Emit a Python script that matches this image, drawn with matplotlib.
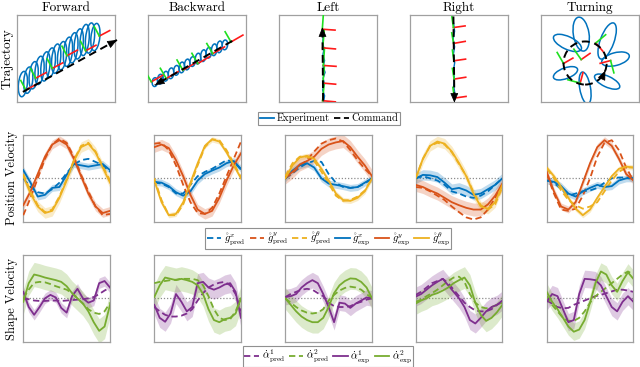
import numpy as np
import matplotlib.pyplot as plt
from matplotlib.patches import Ellipse, Circle
from matplotlib.lines import Line2D

plt.rcParams['font.family'] = 'serif'
plt.rcParams['font.serif'] = ['cmr10']
plt.rcParams['mathtext.fontset'] = 'cm'
plt.rcParams['axes.formatter.use_mathtext'] = True

BLUE = '#0072BD'
RED = '#D95319'
YEL = '#EDB120'
PUR = '#7E2F8E'
GRN = '#77AC30'
FR_RED = '#ff1a1a'
FR_GRN = '#1fe01f'

titles = ["Forward", "Backward", "Left", "Right", "Turning"]

# ---- trajectory row (panel units: x 0..100, y 0..88) ----
# forward: loop centres of the coiling path
fwd_loop_x = [6, 11.5, 17, 23, 29, 34.5, 40, 46, 52, 57.5, 63, 69, 74.5, 80]
fwd_loop_y = [18, 22, 27, 32, 36, 40, 44, 47, 51, 55, 59, 63, 65, 66]
fwd_loop_h = [26, 27, 28, 29, 30, 30, 30, 29, 30, 31, 31, 32, 31, 28]
fwd_loop_w = 9
fwd_cmd_x = [6, 102]
fwd_cmd_y = [10, 63]
fwd_fx = [9, 19, 36, 51, 70, 84]
fwd_fy = [12, 24, 34, 47, 52, 67]
fwd_fh = [28, 28, 28, 28, 28, 28]

# backward
bwd_loop_x = [7, 12.5, 18, 23.5, 29, 34.5, 40, 45.5, 51, 56.5, 62, 67.5, 73, 78.5]
bwd_loop_y = [20, 23, 26, 29, 32, 35, 38, 41, 44, 47, 50, 53, 56, 58]
bwd_loop_h = [9, 10, 10, 11, 10, 11, 11, 10, 11, 12, 11, 12, 12, 10]
bwd_loop_w = 5.5
bwd_cmd_x = [86, 7]
bwd_cmd_y = [62, 17]
bwd_fx = [3.4, 18.6, 35.6, 50.8, 66, 84.7]
bwd_fy = [20.3, 23.7, 32.2, 39, 49, 61]
bwd_fh = [30, 30, 30, 30, 30, 30]

# left
left_bx = [45.5, 46.5, 44.5, 46.5, 45, 47, 45, 46.5, 44.8, 46, 44.5, 45]
left_by = [0, 6, 12, 18, 24, 30, 36, 42, 48, 54, 60, 66]
left_cmd_x = [45, 44.3]
left_cmd_y = [1, 76]
left_fx = [44.5, 44.8, 45.2, 44.6, 44.2]
left_fy = [1, 19, 37, 55, 74]
left_fh = [-5, -5, -4, -5, -4]

# right
right_bx = [44.5, 45.5, 44, 45.5, 44.2, 45.6, 44.4, 45.2, 44.6, 45.8]
right_by = [80, 72, 64, 56, 48, 40, 32, 24, 16, 8]
right_cmd_x = [44.3, 45.3]
right_cmd_y = [87, -1]
right_fx = [44.3, 44.5, 44.8, 45, 45.3]
right_fy = [75.7, 59.5, 41.8, 23.1, 3.7]
right_fh = [8, 10, 8, 9, 8]

# turning: petals of the looping path around the commanded circle
turn_px = [41, 27, 67.5, 76, 67.5, 45, 25]
turn_py = [69, 60, 62, 43.5, 20.5, 14, 29]
turn_plen = [35, 31, 39, 29, 28, 33, 26]
turn_pwid = [16, 13, 14, 13, 11, 11, 11]
turn_pang = [99, 155, 70, 15, -25, 100, 20]
turn_cx, turn_cy, turn_r = 45, 39.5, 22
turn_arrow_deg = -24
turn_fx = [23, 41, 56, 71, 40]
turn_fy = [39, 43, 60, 42, 19]
turn_fh = [30, 35, -50, 195, 75]

# ---- position velocity row (13 samples per run) ----
gx_exp = [[0.19, -0.1, -0.42, -0.38, -0.22, -0.2, 0.08, 0.33, 0.3, 0.27, 0.3, 0.33, 0.19],
          [-0.08, -0.1, -0.18, -0.32, -0.4, -0.3, -0.05, 0.1, 0.18, 0.25, 0.35, 0.4, 0.22],
          [0.0, 0.18, 0.3, 0.35, 0.25, 0.0, -0.12, -0.15, -0.18, -0.22, -0.2, -0.1, 0.0],
          [0.0, 0.08, 0.07, 0.03, -0.1, -0.25, -0.22, -0.28, -0.38, -0.35, -0.25, -0.15, 0.0],
          [-0.05, -0.08, -0.18, -0.35, -0.42, -0.3, -0.22, -0.15, -0.2, -0.18, -0.05, 0.0, 0.0]]
gx_pred = [[0.0, -0.2, -0.32, -0.35, -0.25, -0.1, 0.12, 0.32, 0.42, 0.45, 0.38, 0.3, 0.15],
           [-0.1, -0.12, -0.2, -0.35, -0.35, -0.15, 0.05, 0.15, 0.22, 0.32, 0.42, 0.38, 0.2],
           [0.0, 0.12, 0.25, 0.35, 0.4, 0.38, 0.1, -0.1, -0.2, -0.22, -0.2, -0.12, 0.0],
           [0.0, 0.05, 0.0, -0.05, -0.15, -0.3, -0.35, -0.42, -0.45, -0.4, -0.3, -0.15, 0.0],
           [-0.05, -0.1, -0.25, -0.4, -0.35, -0.3, -0.28, -0.22, -0.1, 0.0, 0.02, 0.02, 0.0]]
gy_exp = [[-0.62, -0.3, 0.1, 0.5, 0.78, 0.88, 0.78, 0.45, 0.05, -0.35, -0.65, -0.8, -0.75],
          [0.72, 0.78, 0.7, 0.42, 0.05, -0.38, -0.72, -0.82, -0.75, -0.45, -0.05, 0.3, 0.58],
          [0.02, 0.15, 0.32, 0.4, 0.5, 0.68, 0.78, 0.83, 0.86, 0.72, 0.5, 0.3, 0.05],
          [-0.15, -0.2, -0.28, -0.35, -0.45, -0.55, -0.62, -0.68, -0.72, -0.72, -0.6, -0.4, -0.12],
          [0.15, -0.3, -0.65, -0.72, -0.55, -0.1, 0.35, 0.72, 0.88, 0.75, 0.45, 0.1, -0.05]]
gy_pred = [[-0.85, -0.45, 0.0, 0.45, 0.78, 0.92, 0.82, 0.5, 0.08, -0.3, -0.65, -0.85, -0.82],
           [0.8, 0.82, 0.65, 0.3, -0.15, -0.55, -0.8, -0.82, -0.68, -0.35, 0.05, 0.45, 0.85],
           [0.0, 0.12, 0.28, 0.42, 0.62, 0.8, 0.88, 0.92, 0.85, 0.65, 0.42, 0.22, 0.05],
           [-0.2, -0.22, -0.3, -0.4, -0.5, -0.65, -0.78, -0.9, -0.95, -0.9, -0.72, -0.45, -0.15],
           [0.1, -0.35, -0.72, -0.75, -0.7, -0.4, 0.0, 0.5, 0.82, 0.88, 0.65, 0.25, -0.05]]
gth_exp = [[0.05, -0.35, -0.65, -0.8, -0.75, -0.45, -0.05, 0.4, 0.72, 0.8, 0.6, 0.25, -0.1],
           [-0.05, -0.55, -0.85, -0.82, -0.55, -0.1, 0.35, 0.75, 0.9, 0.85, 0.6, 0.3, 0.0],
           [0.0, 0.3, 0.48, 0.52, 0.45, 0.22, -0.05, -0.35, -0.5, -0.52, -0.45, -0.3, 0.0],
           [0.0, 0.45, 0.75, 0.85, 0.8, 0.62, 0.35, 0.05, -0.35, -0.65, -0.7, -0.55, -0.15],
           [0.25, 0.05, -0.2, -0.45, -0.7, -0.85, -0.72, -0.45, -0.2, 0.05, 0.22, 0.27, 0.25]]
gth_pred = [[0.1, -0.3, -0.62, -0.78, -0.72, -0.42, -0.02, 0.42, 0.75, 0.82, 0.62, 0.28, -0.05],
            [0.0, -0.5, -0.85, -0.85, -0.6, -0.15, 0.3, 0.72, 0.9, 0.88, 0.65, 0.35, 0.02],
            [0.05, 0.35, 0.5, 0.5, 0.4, 0.15, -0.12, -0.4, -0.52, -0.5, -0.42, -0.28, 0.0],
            [0.0, 0.45, 0.75, 0.82, 0.78, 0.6, 0.33, 0.05, -0.32, -0.62, -0.72, -0.6, -0.2],
            [0.22, 0.0, -0.28, -0.5, -0.62, -0.7, -0.65, -0.55, -0.3, -0.05, 0.15, 0.25, 0.25]]
gx_band = [0.08, 0.08, 0.08, 0.12, 0.08]
gy_band = [0.1, 0.12, 0.15, 0.15, 0.08]
gth_band = [0.12, 0.06, 0.06, 0.12, 0.06]

# ---- shape velocity row (17 samples per run) ----
a1_exp = [[0.15, -0.2, -0.38, -0.2, 0.0, 0.08, 0.02, -0.22, -0.33, 0.05, 0.22, 0.0, -0.1, -0.05, 0.35, 0.4, 0.25],
          [-0.15, -0.45, -0.54, -0.35, 0.1, -0.08, -0.3, -0.2, 0.35, 0.38, 0.25, 0.2, 0.25, 0.32, 0.35, 0.15, -0.45],
          [0.03, 0.05, 0.1, 0.25, 0.35, 0.42, 0.35, 0.1, -0.2, -0.55, -0.1, -0.12, -0.22, -0.12, -0.05, 0.02, 0.0],
          [0.04, 0.1, 0.2, 0.3, 0.38, 0.45, 0.3, 0.15, 0.0, -0.2, -0.5, -0.58, -0.45, -0.3, -0.2, -0.15, -0.05],
          [-0.08, 0.1, 0.05, -0.25, -0.55, -0.5, 0.1, 0.45, 0.44, 0.42, 0.3, 0.05, -0.2, -0.3, -0.08, 0.05, -0.08]]
a1_pred = [[0.0, -0.02, -0.05, -0.06, -0.06, -0.05, -0.05, -0.06, -0.05, -0.04, -0.03, -0.02, 0.0, 0.03, 0.1, 0.18, 0.25],
           [-0.2, -0.3, -0.38, -0.42, -0.42, -0.4, -0.35, -0.25, -0.05, 0.12, 0.25, 0.32, 0.36, 0.38, 0.3, 0.1, -0.3],
           [0.03, 0.1, 0.15, 0.2, 0.22, 0.2, 0.12, 0.05, -0.1, -0.18, -0.2, -0.2, -0.18, -0.12, -0.08, -0.03, 0.0],
           [0.08, 0.15, 0.25, 0.35, 0.4, 0.45, 0.35, 0.2, 0.05, -0.1, -0.2, -0.28, -0.3, -0.3, -0.25, -0.15, -0.08],
           [-0.05, -0.12, -0.2, -0.23, -0.22, -0.15, -0.1, -0.05, 0.0, 0.05, 0.08, 0.12, 0.16, 0.2, 0.2, 0.18, 0.15]]
a2_exp = [[-0.08, 0.35, 0.55, 0.52, 0.48, 0.45, 0.42, 0.38, 0.28, 0.12, 0.0, -0.12, -0.3, -0.55, -0.75, -0.65, -0.15],
          [0.03, 0.3, 0.48, 0.45, 0.42, 0.45, 0.42, 0.38, 0.3, 0.1, -0.25, -0.5, -0.55, -0.48, -0.45, -0.35, 0.0],
          [0.0, -0.15, -0.3, -0.42, -0.5, -0.55, -0.55, -0.45, -0.2, 0.12, 0.3, 0.4, 0.46, 0.45, 0.38, 0.25, 0.0],
          [-0.12, -0.05, 0.0, 0.08, 0.12, 0.18, 0.25, 0.35, 0.42, 0.48, 0.3, -0.1, -0.38, -0.52, -0.45, -0.32, -0.15],
          [0.15, -0.08, -0.25, -0.45, -0.65, -0.77, -0.72, -0.5, -0.1, 0.35, 0.62, 0.55, 0.3, 0.15, 0.4, 0.6, 0.45]]
a2_pred = [[0.0, 0.2, 0.36, 0.38, 0.37, 0.33, 0.28, 0.24, 0.2, 0.12, 0.0, -0.12, -0.25, -0.33, -0.36, -0.3, -0.1],
           [0.35, 0.38, 0.4, 0.42, 0.43, 0.45, 0.45, 0.45, 0.42, 0.3, 0.05, -0.25, -0.45, -0.5, -0.48, -0.3, 0.0],
           [0.0, -0.1, -0.2, -0.28, -0.33, -0.35, -0.33, -0.25, -0.05, 0.08, 0.18, 0.24, 0.27, 0.25, 0.2, 0.1, 0.0],
           [-0.08, -0.03, 0.05, 0.12, 0.2, 0.3, 0.4, 0.48, 0.5, 0.38, 0.1, -0.1, -0.2, -0.23, -0.2, -0.15, -0.1],
           [0.05, -0.15, -0.3, -0.45, -0.52, -0.52, -0.45, -0.3, -0.1, 0.05, 0.15, 0.25, 0.35, 0.45, 0.55, 0.62, 0.55]]
a1_band = [0.12, 0.22, 0.18, 0.22, 0.2]
a2_band = [0.28, 0.28, 0.25, 0.25, 0.2]


def style(ax):
    ax.set_xticks([])
    ax.set_yticks([])
    for s in ax.spines.values():
        s.set_color('#a0a0a0')
        s.set_linewidth(0.9)


def draw_cmd(ax, xs, ys):
    ax.plot(xs, ys, color='k', lw=1.4, ls=(0, (4, 2.5)), clip_on=False, zorder=5)
    x0, y0, x1, y1 = xs[-2], ys[-2], xs[-1], ys[-1]
    ax.annotate('', xy=(x1, y1), xytext=(x1 - 0.08 * (x1 - x0), y1 - 0.08 * (y1 - y0)),
                arrowprops=dict(arrowstyle='-|>,head_length=0.6,head_width=0.25',
                                color='k', lw=0.5, shrinkA=0, shrinkB=0),
                annotation_clip=False, zorder=6)


def draw_frames(ax, fx, fy, fh, lr, lg):
    for x, y, h in zip(fx, fy, fh):
        a = np.deg2rad(h)
        ax.plot([x, x + lr * np.cos(a)], [y, y + lr * np.sin(a)], color=FR_RED, lw=1.2, zorder=4)
        ax.plot([x, x - lg * np.sin(a)], [y, y + lg * np.cos(a)], color=FR_GRN, lw=1.2, zorder=4)


fig = plt.figure(figsize=(6.4, 3.67), dpi=100)
W, H = 640.0, 367.0

row1_x = [17, 148, 279, 410, 541]
row23_x = [23.3, 154.3, 285.3, 415.7, 546.7]

traj_axes = []
for i, x0 in enumerate(row1_x):
    ax = fig.add_axes([x0 / W, 1 - 101.7 / H, 98 / W, 86.2 / H])
    style(ax)
    ax.set_xlim(0, 100)
    ax.set_ylim(0, 88)
    ax.set_title(titles[i], fontsize=9.5, pad=3)
    traj_axes.append(ax)

# forward
ax = traj_axes[0]
for x, y, h in zip(fwd_loop_x, fwd_loop_y, fwd_loop_h):
    ax.add_patch(Ellipse((x, y), fwd_loop_w, h, angle=-6, fill=False, ec=BLUE, lw=1.1))
draw_frames(ax, fwd_fx, fwd_fy, fwd_fh, 12, 11)
draw_cmd(ax, fwd_cmd_x, fwd_cmd_y)

# backward
ax = traj_axes[1]
for x, y, h in zip(bwd_loop_x, bwd_loop_y, bwd_loop_h):
    ax.add_patch(Ellipse((x, y), bwd_loop_w, h, angle=-6, fill=False, ec=BLUE, lw=1.1))
draw_frames(ax, bwd_fx, bwd_fy, bwd_fh, 14, 12)
draw_cmd(ax, bwd_cmd_x, bwd_cmd_y)

# left
ax = traj_axes[2]
ax.plot(left_bx, left_by, color=BLUE, lw=1.0)
draw_frames(ax, left_fx, left_fy, left_fh, 13, 18)
draw_cmd(ax, left_cmd_x, left_cmd_y)

# right
ax = traj_axes[3]
ax.plot(right_bx, right_by, color=BLUE, lw=1.0)
draw_frames(ax, right_fx, right_fy, right_fh, 12, 11)
draw_cmd(ax, right_cmd_x, right_cmd_y)

# turning
ax = traj_axes[4]
for x, y, l, w, a in zip(turn_px, turn_py, turn_plen, turn_pwid, turn_pang):
    ax.add_patch(Ellipse((x, y), l, w, angle=a, fill=False, ec=BLUE, lw=1.1))
draw_frames(ax, turn_fx, turn_fy, turn_fh, 11, 13)
ax.add_patch(Circle((turn_cx, turn_cy), turn_r, fill=False, ec='k', lw=1.4,
                    ls=(0, (4, 2.5)), zorder=5))
th = np.deg2rad(turn_arrow_deg)
ax_, ay_ = turn_cx + turn_r * np.cos(th), turn_cy + turn_r * np.sin(th)
ax.annotate('', xy=(ax_ - 1.5 * np.sin(th), ay_ + 1.5 * np.cos(th)), xytext=(ax_, ay_),
            arrowprops=dict(arrowstyle='-|>,head_length=0.6,head_width=0.25',
                            color='k', lw=0.5, shrinkA=0, shrinkB=0), zorder=6)


def series_panel(ax, exps, preds, bands, colors):
    n = len(exps[0])
    t = np.arange(n)
    ax.axhline(0, color='#8c8c8c', lw=0.9, ls=(0, (1, 1.5)), zorder=1)
    for e, b, c in zip(exps, bands, colors):
        e = np.array(e)
        ax.fill_between(t, e - b, e + b, color=c, alpha=0.25, lw=0, zorder=2)
    for p, c in zip(preds, colors):
        ax.plot(t, p, color=c, lw=1.3, ls=(0, (3.5, 2)), zorder=3)
    for e, c in zip(exps, colors):
        ax.plot(t, e, color=c, lw=1.3, zorder=4)
    ax.set_xlim(0, n - 1)
    ax.set_ylim(-1, 1)


for i, x0 in enumerate(row23_x):
    ax = fig.add_axes([x0 / W, 1 - 221.7 / H, 86.7 / W, 86.7 / H])
    style(ax)
    series_panel(ax, [gx_exp[i], gy_exp[i], gth_exp[i]],
                 [gx_pred[i], gy_pred[i], gth_pred[i]],
                 [gx_band[i], gy_band[i], gth_band[i]], [BLUE, RED, YEL])

    ax = fig.add_axes([x0 / W, 1 - 341.7 / H, 86.7 / W, 86.7 / H])
    style(ax)
    series_panel(ax, [a1_exp[i], a2_exp[i]], [a1_pred[i], a2_pred[i]],
                 [a1_band[i], a2_band[i]], [PUR, GRN])

# row labels
fig.text(7 / W, 1 - 58.6 / H, "Trajectory", rotation=90, ha='center', va='center', fontsize=9.5)
fig.text(12 / W, 1 - 178.3 / H, "Position Velocity", rotation=90, ha='center', va='center', fontsize=9)
fig.text(12 / W, 1 - 298.5 / H, "Shape Velocity", rotation=90, ha='center', va='center', fontsize=9)

leg_kw = dict(loc='center', frameon=True, fancybox=False, edgecolor='#909090', framealpha=1,
              fontsize=7.5, handlelength=1.4, handletextpad=0.25, columnspacing=0.4,
              borderpad=0.15, borderaxespad=0, labelspacing=0.2)
dash = (0, (3.5, 2))

h1 = [Line2D([], [], color=BLUE, lw=1.3), Line2D([], [], color='k', lw=1.3, ls=dash)]
lg = fig.legend(h1, ["Experiment", "Command"], ncol=2, bbox_to_anchor=(0.514, 1 - 118.5 / H), **leg_kw)
lg.get_frame().set_linewidth(0.8)

h2 = [Line2D([], [], color=c, lw=1.3, ls=dash) for c in (BLUE, RED, YEL)] + \
     [Line2D([], [], color=c, lw=1.3) for c in (BLUE, RED, YEL)]
l2 = [r'$\mathring{g}^{x}_{\mathrm{pred}}$', r'$\mathring{g}^{y}_{\mathrm{pred}}$',
      r'$\mathring{g}^{\theta}_{\mathrm{pred}}$', r'$\mathring{g}^{x}_{\mathrm{exp}}$',
      r'$\mathring{g}^{y}_{\mathrm{exp}}$', r'$\mathring{g}^{\theta}_{\mathrm{exp}}$']
lg = fig.legend(h2, l2, ncol=6, bbox_to_anchor=(0.513, 1 - 238.5 / H), **leg_kw)
lg.get_frame().set_linewidth(0.8)

h3 = [Line2D([], [], color=c, lw=1.3, ls=dash) for c in (PUR, GRN)] + \
     [Line2D([], [], color=c, lw=1.3) for c in (PUR, GRN)]
l3 = [r'$\dot{\alpha}^{1}_{\mathrm{pred}}$', r'$\dot{\alpha}^{2}_{\mathrm{pred}}$',
      r'$\dot{\alpha}^{1}_{\mathrm{exp}}$', r'$\dot{\alpha}^{2}_{\mathrm{exp}}$']
lg = fig.legend(h3, l3, ncol=4, bbox_to_anchor=(0.5125, 1 - 356.5 / H), **leg_kw)
lg.get_frame().set_linewidth(0.8)

fig.savefig("out.png", dpi=100)
